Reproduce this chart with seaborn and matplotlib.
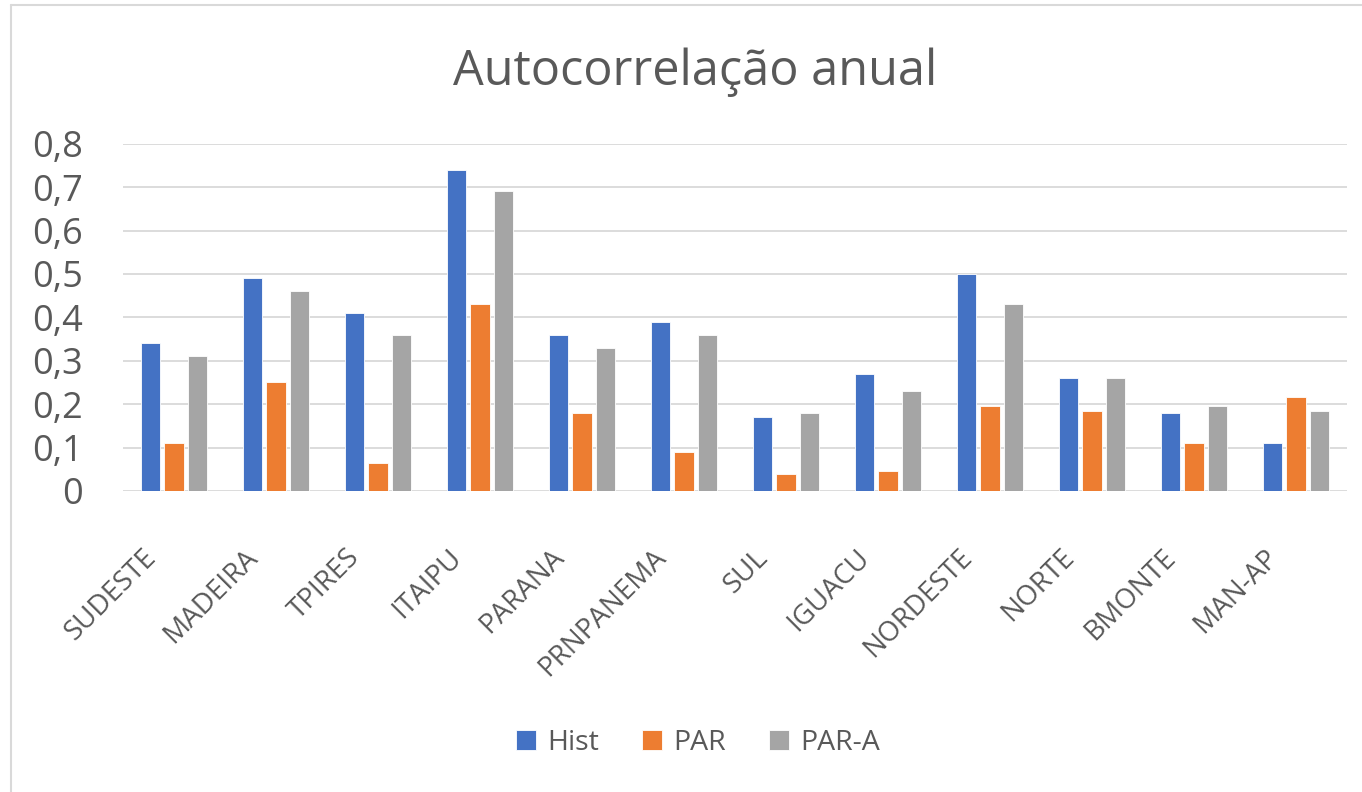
#!/usr/bin/env python3

import matplotlib
matplotlib.use("Agg")
import matplotlib.pyplot as plt
import matplotlib.transforms as mtransforms
import seaborn as sns
import pandas as pd

# Data
regions = ["SUDESTE", "MADEIRA", "TPIRES", "ITAIPU", "PARANA", "PRNPANEMA",
           "SUL", "IGUACU", "NORDESTE", "NORTE", "BMONTE", "MAN-AP"]
hist = [0.34, 0.49, 0.41, 0.74, 0.36, 0.39, 0.17, 0.27, 0.50, 0.26, 0.18, 0.11]
par = [0.11, 0.25, 0.065, 0.43, 0.18, 0.09, 0.04, 0.045, 0.196, 0.185, 0.11, 0.217]
par_a = [0.31, 0.46, 0.36, 0.69, 0.33, 0.36, 0.18, 0.23, 0.43, 0.26, 0.196, 0.185]
series_names = ["Hist", "PAR", "PAR-A"]
yticks = [0, 0.1, 0.2, 0.3, 0.4, 0.5, 0.6, 0.7, 0.8]
ytick_labels = ["0", "0,1", "0,2", "0,3", "0,4", "0,5", "0,6", "0,7", "0,8"]
title = "Autocorrelação anual"

df = pd.DataFrame({"region": regions * 3,
                   "serie": [s for s in series_names for _ in regions],
                   "value": hist + par + par_a})

sns.set_theme(style="white")
plt.rcParams["font.family"] = ["Open Sans", "DejaVu Sans"]
txt_color = "#595959"
grid_color = "#d9d9d9"
colors = ["#4472C4", "#ED7D31", "#A5A5A5"]

W, H = 1362, 792
fig = plt.figure(figsize=(W / 100, H / 100), dpi=100)
ax = fig.add_axes([123 / W, 1 - 491 / H, (1347 - 123) / W, (491 - 143.7) / H])

sns.barplot(data=df, x="region", y="value", hue="serie", palette=colors,
            width=0.69, gap=0.19, ax=ax, saturation=1, edgecolor="white",
            linewidth=0.6, zorder=3)

ax.set_ylim(0, 0.8)
ax.set_xlim(-0.5, len(regions) - 0.5)
ax.set_yticks(yticks)
ax.set_yticklabels(ytick_labels)
ax.yaxis.grid(True, color=grid_color, linewidth=1.3, zorder=0)
ax.set_axisbelow(True)
for s in ax.spines.values():
    s.set_visible(False)
ax.set_xlabel("")
ax.set_ylabel("")

ax.tick_params(axis="y", length=0, pad=29, labelsize=26, labelcolor=txt_color)
ax.tick_params(axis="x", length=0, pad=45, labelsize=20, labelcolor=txt_color)
shift = mtransforms.ScaledTranslation(-22 / 100, 0, fig.dpi_scale_trans)
for lab in ax.get_xticklabels():
    lab.set_rotation(45)
    lab.set_rotation_mode("anchor")
    lab.set_ha("right")
    lab.set_va("center")
    lab.set_transform(lab.get_transform() + shift)

sns.move_legend(ax, "center", bbox_to_anchor=(698 / W, 1 - 743 / H),
                bbox_transform=fig.transFigure, ncol=3, frameon=False,
                title=None, fontsize=20.5, handlelength=0.7, handleheight=0.7,
                handletextpad=0.4, columnspacing=1.5)
for t in ax.get_legend().get_texts():
    t.set_color(txt_color)

fig.text(695 / W, 1 - 85 / H, title, ha="center", va="baseline",
         fontsize=35, color=txt_color)

# chart area border (left and top visible)
fig.add_artist(plt.Line2D([11 / W, 11 / W], [0, 1 - 5 / H], transform=fig.transFigure,
                          color=grid_color, linewidth=1.5))
fig.add_artist(plt.Line2D([11 / W, 1], [1 - 5 / H, 1 - 5 / H], transform=fig.transFigure,
                          color=grid_color, linewidth=1.5))

fig.savefig("out.png", dpi=100, facecolor="white")
